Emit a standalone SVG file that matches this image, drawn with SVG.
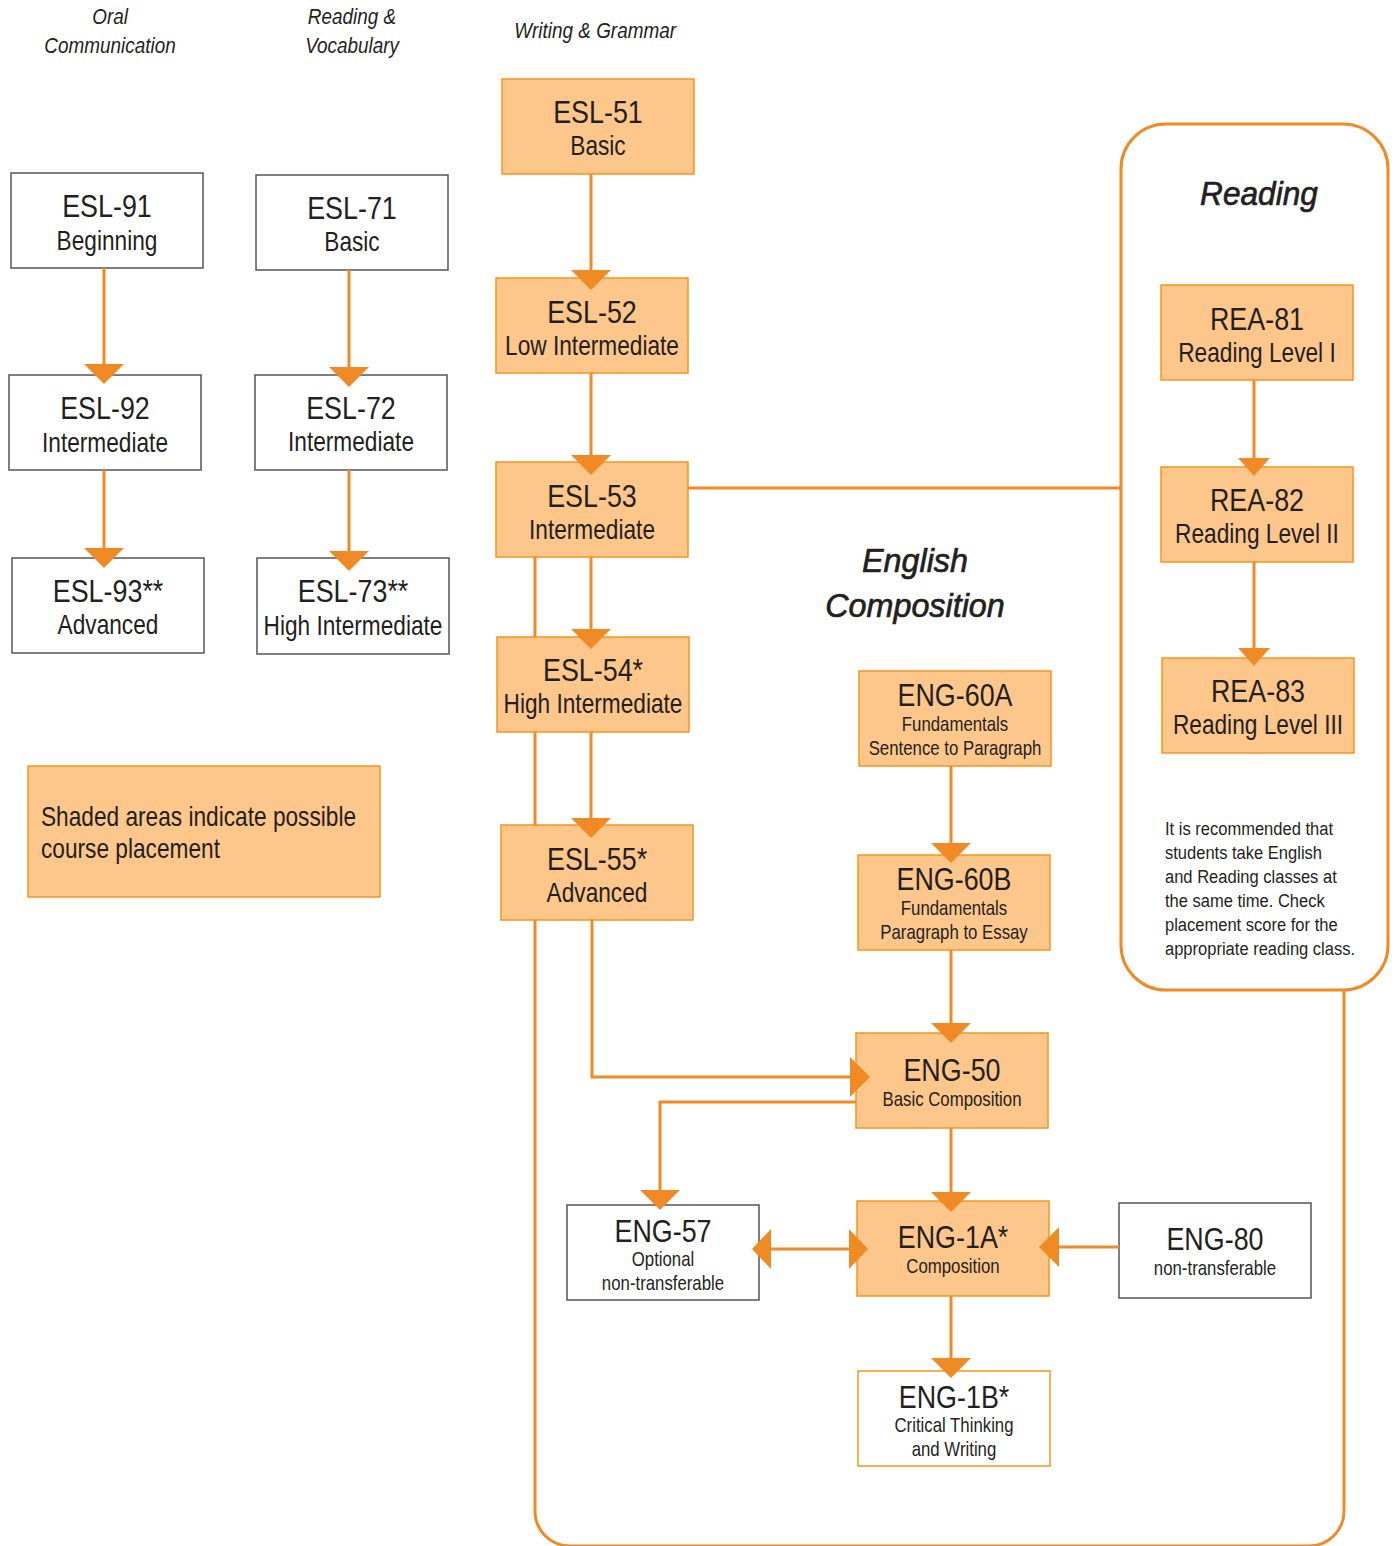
<svg xmlns="http://www.w3.org/2000/svg" width="1395" height="1546" viewBox="0 0 1395 1546">
<defs>
<style>
text{font-family:"Liberation Sans",Arial,sans-serif;fill:#231f20;text-anchor:middle;transform-box:fill-box;transform-origin:center;transform:scaleX(.84)}
.t1{font-size:32px}
.t2{font-size:27px}
.t3{font-size:20px}
.hd{font-size:22px;font-style:italic;transform:scaleX(.86)}
.big{font-size:34px;font-style:italic;stroke:#231f20;stroke-width:.7;transform:scaleX(.95)}
.note{font-size:19px;text-anchor:start;transform-origin:left;transform:scaleX(.87)}
.leg{font-size:27px;text-anchor:start;transform-origin:left}
.sh{fill:#fdc68b;stroke:#f7941d;stroke-width:1.5}
.wh{fill:#fff;stroke:#555;stroke-width:1.5}
.wo{fill:#fff;stroke:#f7941d;stroke-width:1.5}
.ln{fill:none;stroke:#f08a24;stroke-width:3}
.ah{fill:#f08a24}
</style>
</defs>
<rect width="1395" height="1546" fill="#fff"/>
<g id="headers">
<text class="hd" x="110" y="24">Oral</text>
<text class="hd" x="110" y="53">Communication</text>
<text class="hd" x="352" y="24">Reading &amp;</text>
<text class="hd" x="352" y="53">Vocabulary</text>
<text class="hd" x="595" y="38">Writing &amp; Grammar</text>
</g>
<g id="reading-group">
<rect x="1121" y="124" width="267" height="866" rx="45" fill="none" stroke="#f08a24" stroke-width="3"/>
<text class="big" x="1259" y="205" style="transform:scaleX(.93)">Reading</text>
<text class="note" x="1165" y="835">It is recommended that</text>
<text class="note" x="1165" y="859">students take English</text>
<text class="note" x="1165" y="883">and Reading classes at</text>
<text class="note" x="1165" y="907">the same time.  Check</text>
<text class="note" x="1165" y="931">placement score for the</text>
<text class="note" x="1165" y="955">appropriate reading class.</text>
</g>
<g id="eng-title">
<text class="big" x="915" y="572">English</text>
<text class="big" x="915" y="617">Composition</text>
</g>
<g id="esl51"><rect class="sh" x="502" y="79" width="192" height="95"/><text class="t1" x="598" y="123">ESL-51</text><text class="t2" x="598" y="155">Basic</text></g>
<g id="esl52"><rect class="sh" x="496" y="278" width="192" height="95"/><text class="t1" x="592" y="323">ESL-52</text><text class="t2" x="592" y="355">Low Intermediate</text></g>
<g id="esl53"><rect class="sh" x="496" y="462" width="192" height="95"/><text class="t1" x="592" y="507">ESL-53</text><text class="t2" x="592" y="539">Intermediate</text></g>
<g id="esl54"><rect class="sh" x="497" y="637" width="192" height="95"/><text class="t1" x="593" y="681">ESL-54*</text><text class="t2" x="593" y="713">High Intermediate</text></g>
<g id="esl55"><rect class="sh" x="501" y="825" width="192" height="95"/><text class="t1" x="597" y="870">ESL-55*</text><text class="t2" x="597" y="902">Advanced</text></g>
<g id="esl91"><rect class="wh" x="11" y="173" width="192" height="95"/><text class="t1" x="107" y="217">ESL-91</text><text class="t2" x="107" y="250">Beginning</text></g>
<g id="esl92"><rect class="wh" x="9" y="375" width="192" height="95"/><text class="t1" x="105" y="419">ESL-92</text><text class="t2" x="105" y="452">Intermediate</text></g>
<g id="esl93"><rect class="wh" x="12" y="558" width="192" height="95"/><text class="t1" x="108" y="602">ESL-93**</text><text class="t2" x="108" y="634">Advanced</text></g>
<g id="esl71"><rect class="wh" x="256" y="175" width="192" height="95"/><text class="t1" x="352" y="219">ESL-71</text><text class="t2" x="352" y="251">Basic</text></g>
<g id="esl72"><rect class="wh" x="255" y="375" width="192" height="95"/><text class="t1" x="351" y="419">ESL-72</text><text class="t2" x="351" y="451">Intermediate</text></g>
<g id="esl73"><rect class="wh" x="257" y="558" width="192" height="96"/><text class="t1" x="353" y="602">ESL-73**</text><text class="t2" x="353" y="635">High Intermediate</text></g>
<g id="legend"><rect class="sh" x="28" y="766" width="352" height="131"/><text class="leg" x="41" y="826">Shaded areas indicate possible</text><text class="leg" x="41" y="858">course placement</text></g>
<g id="rea81"><rect class="sh" x="1161" y="285" width="192" height="95"/><text class="t1" x="1257" y="330">REA-81</text><text class="t2" x="1257" y="362">Reading Level I</text></g>
<g id="rea82"><rect class="sh" x="1161" y="467" width="192" height="95"/><text class="t1" x="1257" y="511">REA-82</text><text class="t2" x="1257" y="543">Reading Level II</text></g>
<g id="rea83"><rect class="sh" x="1162" y="658" width="192" height="95"/><text class="t1" x="1258" y="702">REA-83</text><text class="t2" x="1258" y="734">Reading Level III</text></g>
<g id="eng60a"><rect class="sh" x="859" y="671" width="192" height="95"/><text class="t1" x="955" y="706">ENG-60A</text><text class="t3" x="955" y="731">Fundamentals</text><text class="t3" x="955" y="755">Sentence to Paragraph</text></g>
<g id="eng60b"><rect class="sh" x="858" y="855" width="192" height="95"/><text class="t1" x="954" y="890">ENG-60B</text><text class="t3" x="954" y="915">Fundamentals</text><text class="t3" x="954" y="939">Paragraph to Essay</text></g>
<g id="eng50"><rect class="sh" x="856" y="1033" width="192" height="95"/><text class="t1" x="952" y="1081">ENG-50</text><text class="t3" x="952" y="1106">Basic Composition</text></g>
<g id="eng1a"><rect class="sh" x="857" y="1201" width="192" height="95"/><text class="t1" x="953" y="1248">ENG-1A*</text><text class="t3" x="953" y="1273">Composition</text></g>
<g id="eng57"><rect class="wh" x="567" y="1205" width="192" height="95"/><text class="t1" x="663" y="1242">ENG-57</text><text class="t3" x="663" y="1266">Optional</text><text class="t3" x="663" y="1290">non-transferable</text></g>
<g id="eng80"><rect class="wh" x="1119" y="1203" width="192" height="95"/><text class="t1" x="1215" y="1250">ENG-80</text><text class="t3" x="1215" y="1275">non-transferable</text></g>
<g id="eng1b"><rect class="wo" x="858" y="1371" width="192" height="95"/><text class="t1" x="954" y="1408">ENG-1B*</text><text class="t3" x="954" y="1432">Critical Thinking</text><text class="t3" x="954" y="1456">and Writing</text></g>
<g id="connectors">
<path class="ln" d="M535 557 V637 M535 732 V825 M535 920 V1511 a35 35 0 0 0 35 35 H1309 a35 35 0 0 0 35 -35 V990"/>
<path class="ln" d="M688 488 H1121"/>
<path class="ln" d="M591 174 V278 M591 373 V462 M591 557 V637 M591 732 V825"/>
<path class="ln" d="M104 268 V375 M104 470 V558 M349 270 V375 M349 470 V558"/>
<path class="ln" d="M1254 380 V467 M1254 562 V658"/>
<path class="ln" d="M592 920 V1077 H856"/>
<path class="ln" d="M856 1102 H660 V1205"/>
<path class="ln" d="M951 766 V855 M951 950 V1033 M951 1128 V1201 M951 1296 V1371"/>
<path class="ln" d="M759 1249 H857"/>
<path class="ln" d="M1119 1247 H1050"/>
<g class="ah">
<polygon points="571,270 611,270 591,290"/>
<polygon points="571,455 611,455 591,475"/>
<polygon points="571,629 611,629 591,649"/>
<polygon points="571,818 611,818 591,838"/>
<polygon points="84,364 124,364 104,384"/>
<polygon points="84,548 124,548 104,568"/>
<polygon points="329,367 369,367 349,387"/>
<polygon points="329,551 369,551 349,571"/>
<polygon points="1238,458 1270,458 1254,476"/>
<polygon points="1238,648 1270,648 1254,666"/>
<polygon points="931,843 971,843 951,863"/>
<polygon points="931,1023 971,1023 951,1043"/>
<polygon points="931,1192 971,1192 951,1212"/>
<polygon points="931,1358 971,1358 951,1378"/>
<polygon points="640,1190 680,1190 660,1210"/>
<polygon points="850,1057 850,1097 870,1077"/>
<polygon points="771,1229 771,1269 752,1249"/>
<polygon points="849,1229 849,1269 868,1249"/>
<polygon points="1059,1227 1059,1267 1039,1247"/>
</g>
</g>
</svg>
